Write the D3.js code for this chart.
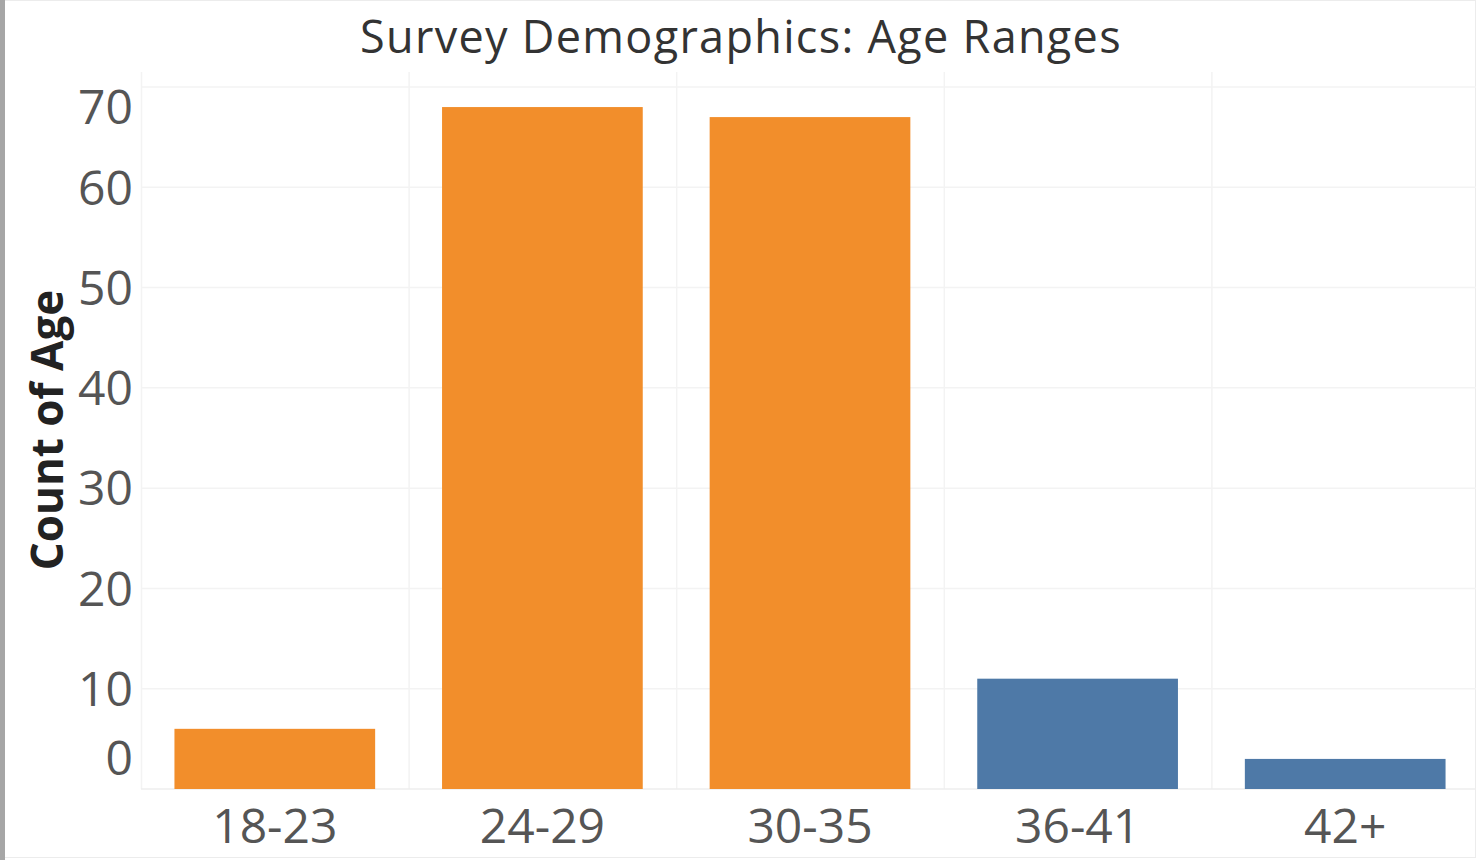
<!DOCTYPE html>
<html>
<head>
<meta charset="utf-8">
<script src="https://cdn.jsdelivr.net/npm/d3@7"></script>
<style>
  html, body { margin: 0; padding: 0; background: #fff; }
  svg { display: block; }
</style>
</head>
<body>
<svg id="chart" width="1476" height="860"></svg>
<script>
// Survey respondents counted per age range
const categories = ["18-23", "24-29", "30-35", "36-41", "42+"];
const counts = [6, 68, 67, 11, 3];
const highlighted = ["18-23", "24-29", "30-35"];
const yTicks = [0, 10, 20, 30, 40, 50, 60, 70];

const W = 1476, H = 860;
const pane = { left: 141, right: 1479, top: 72, bottom: 789 };
const ORANGE = "#f28e2b", BLUE = "#4e79a7";
const FONT = "'Open Sans', 'DejaVu Sans', sans-serif";

const svg = d3.select("#chart");

// frame
svg.append("rect").attr("x", 0.5).attr("y", 0.5).attr("width", W - 1).attr("height", H - 3)
  .attr("fill", "#fff").attr("stroke", "#ececec");
svg.append("rect").attr("x", 0).attr("y", 0).attr("width", 5).attr("height", H)
  .attr("fill", "#a6a6a6");

const x = d3.scaleBand().domain(categories).range([pane.left, pane.right])
  .paddingInner(0.25).paddingOuter(0.125);
const y = d3.scaleLinear().domain([0, 70]).range([pane.bottom, 87]);

// column dividers
const step = x.step();
svg.append("g").selectAll("line").data(d3.range(categories.length))
  .join("line")
  .attr("x1", i => pane.left + i * step + 0.5).attr("x2", i => pane.left + i * step + 0.5)
  .attr("y1", pane.top).attr("y2", pane.bottom)
  .attr("stroke", "#f3f3f3").attr("stroke-width", 1.5);

// horizontal gridlines
svg.append("g").selectAll("line").data(yTicks)
  .join("line")
  .attr("x1", pane.left).attr("x2", W)
  .attr("y1", d => y(d)).attr("y2", d => y(d))
  .attr("stroke", d => d === 0 ? "#eeeeee" : "#f3f3f3").attr("stroke-width", 1.5);

// bars
svg.append("g").selectAll("rect").data(categories)
  .join("rect")
  .attr("x", d => x(d))
  .attr("width", x.bandwidth())
  .attr("y", (d, i) => y(counts[i]))
  .attr("height", (d, i) => y(0) - y(counts[i]))
  .attr("fill", d => highlighted.includes(d) ? ORANGE : BLUE);

// y axis labels (end labels are kept inside the pane)
const yAxis = d3.axisLeft(y).tickValues(yTicks).tickSize(0).tickPadding(8).tickFormat(d3.format("d"));
const gy = svg.append("g").attr("transform", `translate(${pane.left},0)`).call(yAxis);
gy.select(".domain").remove();
gy.selectAll("text")
  .attr("font-family", FONT).attr("font-size", 48).attr("fill", "#555")
  .attr("dy", d => d === 0 ? "-0.3em" : d === 70 ? "0.75em" : "0.35em");

// x axis labels
const xAxis = d3.axisBottom(x).tickSize(0).tickPadding(20);
const gx = svg.append("g").attr("transform", `translate(0,${pane.bottom})`).call(xAxis);
gx.select(".domain").remove();
gx.selectAll("text")
  .attr("font-family", FONT).attr("font-size", 48).attr("fill", "#555");

// axis title
svg.append("text")
  .attr("transform", `translate(63,${(290 + 570) / 2}) rotate(-90)`)
  .attr("text-anchor", "middle")
  .attr("font-family", FONT).attr("font-weight", 700).attr("font-size", 44)
  .attr("fill", "#222")
  .text("Count of Age");

// chart title
svg.append("text")
  .attr("x", 741).attr("y", 53)
  .attr("text-anchor", "middle")
  .attr("font-family", FONT).attr("font-size", 45).attr("letter-spacing", 1.3)
  .attr("fill", "#333")
  .text("Survey Demographics: Age Ranges");
</script>
</body>
</html>
